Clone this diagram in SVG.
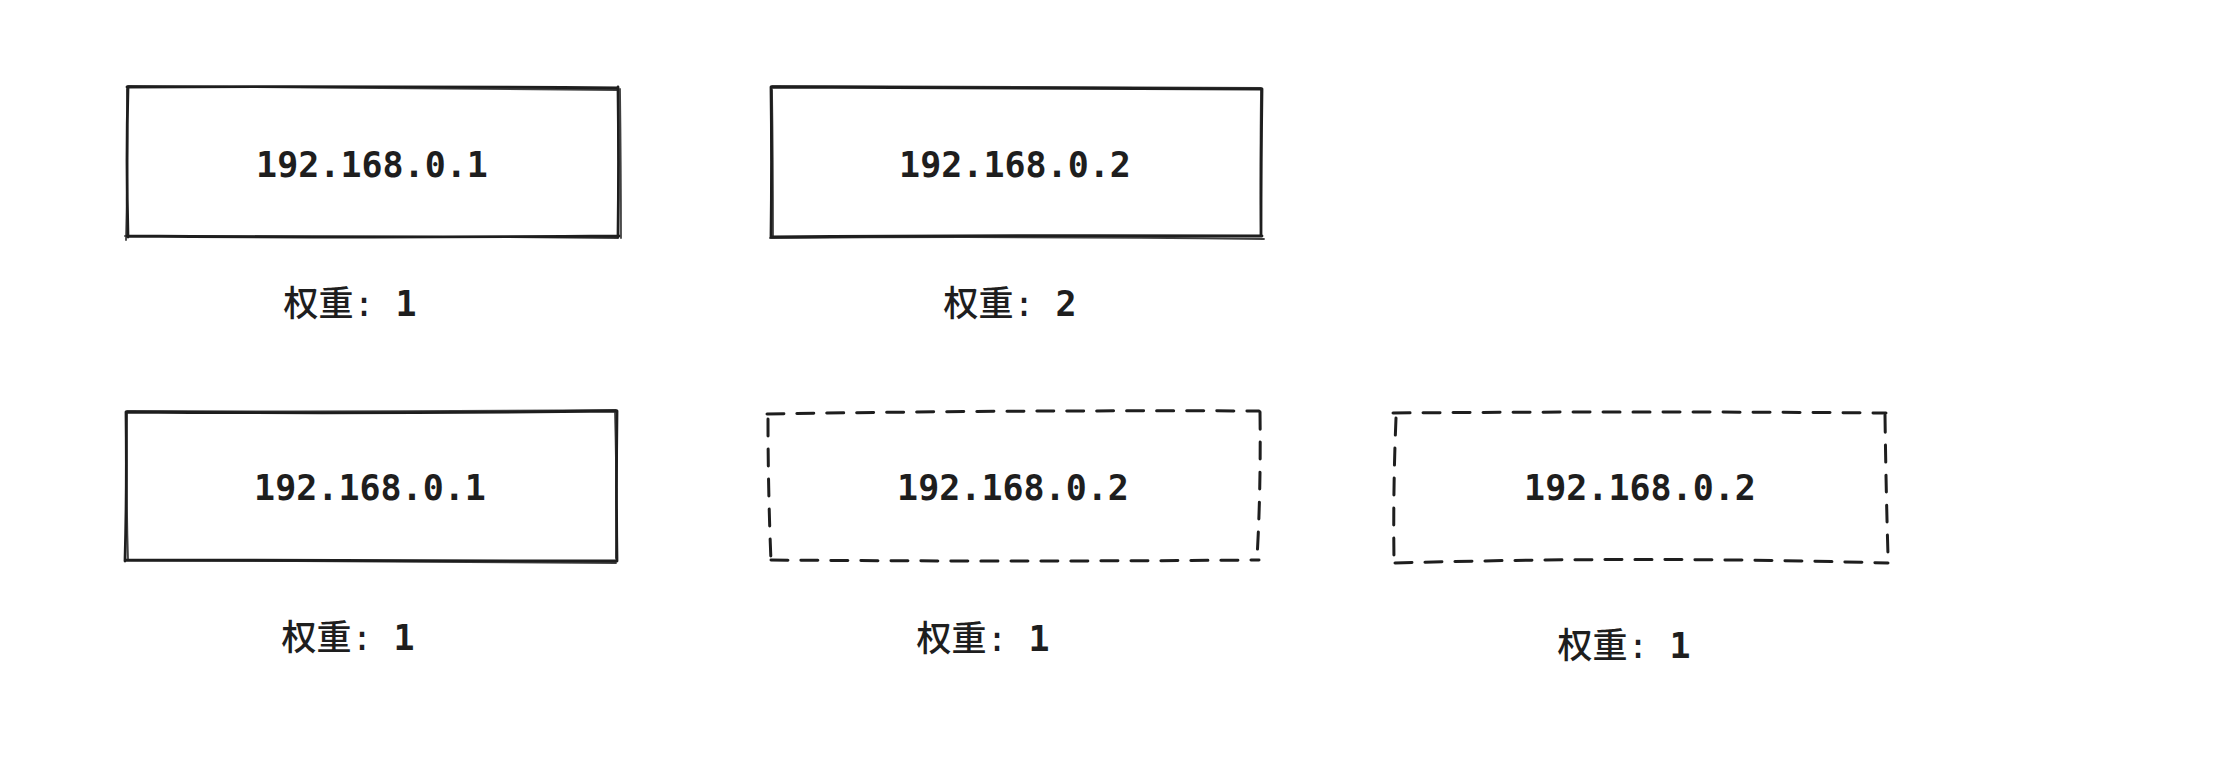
<svg xmlns="http://www.w3.org/2000/svg" width="2238" height="776" viewBox="0 0 2238 776">
<style>
.sk{fill:none;stroke:#1e1e1e;stroke-width:2.8;stroke-linecap:round;stroke-linejoin:round}
.sk2{fill:none;stroke:#1e1e1e;stroke-width:1.8;stroke-linecap:round;opacity:0.85}
.dash{fill:none;stroke:#1e1e1e;stroke-width:3;stroke-linecap:round;stroke-dasharray:17 13}
.ip{font-family:"DejaVu Sans Mono","Noto Sans CJK SC",monospace;font-size:35px;font-weight:bold;fill:#1e1e1e;text-anchor:middle}
.lb{font-family:"DejaVu Sans Mono","Noto Sans CJK SC",monospace;font-size:35px;font-weight:500;fill:#1e1e1e;text-anchor:middle}
.num{font-weight:bold}
</style>
<rect width="2238" height="776" fill="#ffffff"/>
<g id="node-a1">
<path class="sk" d="M127 87 Q370 86 618 88 M618 87 Q619 160 618 237 M619 236 Q370 238 127 236 M128 237 Q126 160 128 87"/>
<path class="sk2" d="M128 86 Q380 88 617 90 M620 89 Q621 170 621 238 M618 238 Q400 236 125 236 M126 240 Q128 160 127 89"/>
<text class="ip" x="372" y="177">192.168.0.1</text>
</g>
<g id="label-a1"><text class="lb" x="350" y="316">权重: <tspan class="num">1</tspan></text></g>
<g id="node-a2">
<path class="sk" d="M771 87 Q1010 87 1262 89 M1262 89 Q1261 160 1261 236 M1262 236 Q1010 235 771 237 M771 237 Q772 160 771 87"/>
<path class="sk2" d="M772 86 Q1000 86 1261 88 M1261 90 Q1260 170 1261 235 M1264 239 Q1010 236 770 238 M773 238 Q773 160 772 90"/>
<text class="ip" x="1015" y="177">192.168.0.2</text>
</g>
<g id="label-a2"><text class="lb" x="1010" y="316">权重: <tspan class="num">2</tspan></text></g>
<g id="node-b1">
<path class="sk" d="M126 412 Q370 414 617 411 M617 411 Q616 490 617 561 M617 561 Q370 560 125 560 M125 561 Q127 490 126 412"/>
<path class="sk2" d="M127 411 Q380 412 616 410 M615 413 Q617 490 616 558 M616 563 Q370 561 126 560 M128 559 Q126 490 127 413"/>
<text class="ip" x="370" y="500">192.168.0.1</text>
</g>
<g id="label-b1"><text class="lb" x="348" y="650">权重: <tspan class="num">1</tspan></text></g>
<g id="node-b2">
<path class="dash" d="M767 414 Q1010 410 1259 411"/>
<path class="dash" d="M1260 412 Q1261 490 1257 558"/>
<path class="dash" d="M771 560 Q1010 562 1259 560"/>
<path class="dash" d="M768 419 Q768 490 771 561"/>
<text class="ip" x="1013" y="500">192.168.0.2</text>
</g>
<g id="label-b2"><text class="lb" x="983" y="651">权重: <tspan class="num">1</tspan></text></g>
<g id="node-b3">
<path class="dash" d="M1393 413 Q1640 411 1886 413"/>
<path class="dash" d="M1885 415 Q1886 490 1888 555"/>
<path class="dash" d="M1395 563 Q1640 556 1888 563"/>
<path class="dash" d="M1396 418 Q1393 490 1394 560"/>
<text class="ip" x="1640" y="500">192.168.0.2</text>
</g>
<g id="label-b3"><text class="lb" x="1624" y="658">权重: <tspan class="num">1</tspan></text></g>
<g id="connectors"/>
</svg>
